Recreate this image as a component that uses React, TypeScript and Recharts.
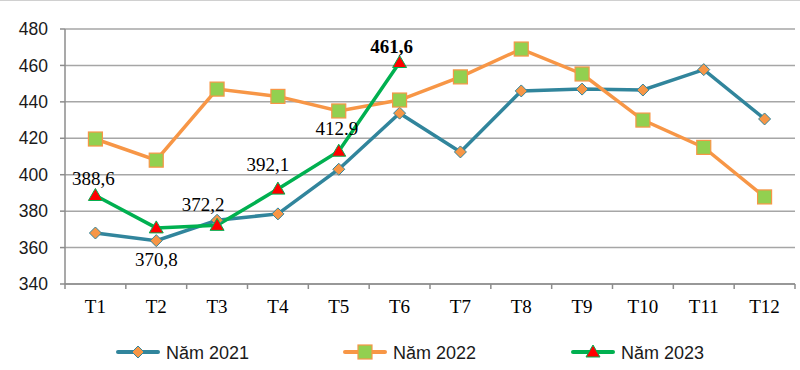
import React from "react";
import { LineChart, Line, XAxis, YAxis, CartesianGrid, LabelList } from "recharts";

const months = ["T1", "T2", "T3", "T4", "T5", "T6", "T7", "T8", "T9", "T10", "T11", "T12"];
const y2021 = [368, 363.8, 375, 378.5, 403, 433.8, 412.5, 446, 447, 446.5, 457.7, 430.6];
const y2022 = [419.6, 408, 447, 443, 435, 441, 453.7, 469, 455.3, 430, 415, 387.8];
const y2023 = [388.6, 370.8, 372.2, 392.1, 412.9, 461.6];
const labels2023 = ["388,6", "370,8", "372,2", "392,1", "412.9", "461,6"];
const yTicks = [340, 360, 380, 400, 420, 440, 460, 480];

const data = months.map((m, i) => ({
  month: m,
  a: y2021[i],
  b: y2022[i],
  c: i < y2023.length ? y2023[i] : null,
}));

// where each 2023 label sits relative to its point
const labelPos = [
  { dx: -2, dy: -17 },
  { dx: 0, dy: 32 },
  { dx: -14, dy: -21 },
  { dx: -10, dy: -25 },
  { dx: -2, dy: -23 },
  { dx: -8, dy: -16 },
];

const TEAL = "#31859C";
const ORANGE = "#F79646";
const LIME = "#92D050";
const GREEN = "#00B050";
const RED = "#FF0000";

const Diamond = ({ cx, cy }: any) =>
  cx == null || cy == null ? null : (
    <path d={`M${cx},${cy - 6}L${cx + 6},${cy}L${cx},${cy + 6}L${cx - 6},${cy}Z`} fill={ORANGE} stroke={TEAL} strokeWidth={1} />
  );

const Square = ({ cx, cy }: any) =>
  cx == null || cy == null ? null : (
    <rect x={cx - 7} y={cy - 7} width={14} height={14} fill={LIME} stroke={ORANGE} strokeWidth={1.2} />
  );

const Triangle = ({ cx, cy }: any) =>
  cx == null || cy == null ? null : (
    <path d={`M${cx},${cy - 7}L${cx + 7},${cy + 5}L${cx - 7},${cy + 5}Z`} fill={RED} stroke={GREEN} strokeWidth={1} />
  );

const XTick = ({ x, y, payload, index }: any) => {
  const off = payload?.offset || 30.4;
  return (
    <g>
      <line x1={x - off} y1={y} x2={x - off} y2={y + 5} stroke="#8c8c8c" strokeWidth={1.5} />
      {index === months.length - 1 && (
        <line x1={x + off} y1={y} x2={x + off} y2={y + 5} stroke="#8c8c8c" strokeWidth={1.5} />
      )}
      <text x={x} y={y + 29} textAnchor="middle" fontFamily="'Liberation Serif', serif" fontSize={19} fill="#000">
        {payload.value}
      </text>
    </g>
  );
};

const Label2023 = ({ x, y, index }: any) => {
  const p = labelPos[index];
  if (!p || x == null) return null;
  return (
    <text
      x={x + p.dx}
      y={y + p.dy}
      textAnchor="middle"
      dominantBaseline="central"
      fontFamily="'Liberation Serif', serif"
      fontSize={19}
      fontWeight={index === 5 ? "bold" : "normal"}
      fill="#000"
    >
      {labels2023[index]}
    </text>
  );
};

const legendItems = [
  { name: "Năm 2021", color: TEAL, left: 118, mark: "d" },
  { name: "Năm 2022", color: ORANGE, left: 345, mark: "s" },
  { name: "Năm 2023", color: GREEN, left: 573, mark: "t" },
];

const Legend = () => (
  <svg width={800} height={30} style={{ position: "absolute", left: 0, top: 337 }}>
    {legendItems.map((it) => (
      <g key={it.name}>
        <line x1={it.left} y1={15} x2={it.left + 40} y2={15} stroke={it.color} strokeWidth={4} strokeLinecap="round" />
        {it.mark === "d" && <Diamond cx={it.left + 20} cy={15} />}
        {it.mark === "s" && <Square cx={it.left + 20} cy={15} />}
        {it.mark === "t" && <Triangle cx={it.left + 20} cy={15} />}
        <text x={it.left + 48} y={21.5} fontFamily="'Liberation Sans', Arial, sans-serif" fontSize={18} fill="#1a1a1a">
          {it.name}
        </text>
      </g>
    ))}
  </svg>
);

export default function App() {
  return (
    <div style={{ position: "fixed", left: 0, top: 0, width: 800, height: 370, background: "#fff" }}>
      <div style={{ position: "absolute", left: 0, top: 0, width: 800, height: 1, background: "#d0d0d0" }} />
      <LineChart width={800} height={370} data={data} margin={{ top: 29, right: 5, left: 0, bottom: 56 }}>
        <CartesianGrid vertical={false} stroke="#a6a6a6" strokeWidth={1.5} />
        <XAxis
          dataKey="month"
          scale="band"
          height={30}
          axisLine={{ stroke: "#8c8c8c", strokeWidth: 1.5 }}
          tickLine={false}
          tickSize={0}
          tickMargin={0}
          tick={<XTick />}
          interval={0}
        />
        <YAxis
          width={65}
          domain={[340, 480]}
          ticks={yTicks}
          axisLine={{ stroke: "#8c8c8c", strokeWidth: 1.5 }}
          tickLine={{ stroke: "#8c8c8c", strokeWidth: 1.5 }}
          tickSize={5}
          tickMargin={12}
          tick={{ fontFamily: "'Liberation Sans', Arial, sans-serif", fontSize: 17.5, fill: "#1a1a1a" }}
        />
        <Line dataKey="a" stroke={TEAL} strokeWidth={3.5} dot={<Diamond />} activeDot={false} isAnimationActive={false} />
        <Line dataKey="b" stroke={ORANGE} strokeWidth={3.5} dot={<Square />} activeDot={false} isAnimationActive={false} />
        <Line dataKey="c" stroke={GREEN} strokeWidth={3.5} dot={<Triangle />} activeDot={false} isAnimationActive={false} connectNulls={false}>
          <LabelList dataKey="c" content={<Label2023 />} />
        </Line>
      </LineChart>
      <Legend />
    </div>
  );
}
